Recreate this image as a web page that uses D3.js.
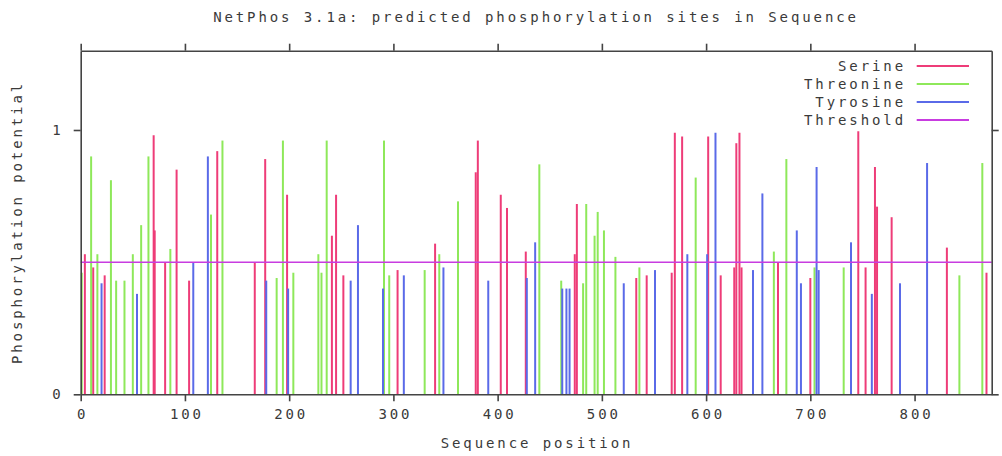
<!DOCTYPE html>
<html><head><meta charset="utf-8">
<script src="https://cdn.jsdelivr.net/npm/d3@7"></script>
<style>
html,body{margin:0;padding:0;background:#fff;}
svg text{font-family:"DejaVu Sans Mono",monospace;font-size:14px;fill:#3a3a3a;letter-spacing:2.9px;}
</style></head>
<body><svg id="chart" width="1002" height="456"></svg>
<script>
const title = "NetPhos 3.1a: predicted phosphorylation sites in Sequence";
const xLabel = "Sequence position";
const yLabel = "Phosphorylation potential";
const xTicks = [0,100,200,300,400,500,600,700,800];
const yTicks = [0,1];
const seqLength = 874;
const threshold = 0.5;
const seriesNames = ["Serine","Threonine","Tyrosine","Threshold"];
const seriesColors = ["#ee3c78","#8ee85a","#5a6ae8","#c83ce0"];

// [position, potential]
const serine = [[4,0.53],[12,0.48],[23,0.45],[70,0.98],[71,0.62],[81,0.50],[92,0.85],[104,0.43],[131,0.92],
 [167,0.50],[177,0.89],[198,0.755],[241,0.60],[245,0.755],[252,0.45],[304,0.47],[340,0.57],[379,0.84],[381,0.96],
 [403,0.755],[409,0.705],[427,0.54],[474,0.53],[476,0.72],[533,0.44],[543,0.45],[567,0.46],[570,0.99],[577,0.975],
 [602,0.975],[614,0.45],[627,0.48],[629,0.95],[632,0.99],[634,0.48],[669,0.50],[700,0.44],[746,0.995],[753,0.48],
 [762,0.86],[764,0.71],[778,0.67],[831,0.555],[869,0.46]];
const threonine = [[1,0.46],[10,0.90],[16,0.53],[29,0.81],[34,0.43],[42,0.43],[50,0.53],[58,0.64],[65,0.90],
 [86,0.55],[125,0.68],[136,0.96],[188,0.44],[194,0.96],[204,0.46],[228,0.53],[231,0.46],[236,0.96],[291,0.96],
 [296,0.45],[330,0.47],[344,0.53],[362,0.73],[440,0.87],[461,0.43],[482,0.42],[485,0.72],[493,0.60],[496,0.69],
 [502,0.62],[513,0.52],[536,0.48],[590,0.82],[665,0.54],[677,0.89],[704,0.48],[732,0.48],[843,0.45],[865,0.875]];
const tyrosine = [[20,0.42],[54,0.38],[108,0.50],[122,0.90],[178,0.43],[199,0.40],[259,0.43],[266,0.64],[290,0.40],
 [310,0.45],[348,0.48],[391,0.43],[428,0.44],[436,0.575],[462,0.40],[466,0.40],[469,0.40],[521,0.42],[551,0.47],
 [582,0.53],[601,0.53],[609,0.99],[645,0.47],[654,0.76],[687,0.62],[691,0.42],[706,0.86],[708,0.47],[739,0.575],
 [759,0.38],[786,0.42],[812,0.875]];

const svg = d3.select("#chart");
const L = 80.7, R = 991.7, T = 50.7, B = 394.3;
const x = d3.scaleLinear().domain([0, seqLength]).range([L, R]);
const y = d3.scaleLinear().domain([0, 1.3]).range([B, T]);

// impulses
const groups = [serine, threonine, tyrosine];
groups.forEach((data, i) => {
  svg.append("g").selectAll("line").data(data).join("line")
    .attr("x1", d => x(d[0])).attr("x2", d => x(d[0]))
    .attr("y1", y(0)).attr("y2", d => y(d[1]))
    .attr("stroke", seriesColors[i]).attr("stroke-width", 2);
});
// threshold
svg.append("line").attr("x1", x(0)).attr("x2", x(seqLength))
  .attr("y1", y(threshold)).attr("y2", y(threshold))
  .attr("stroke", seriesColors[3]).attr("stroke-width", 1.5);

// axes
function styleAxis(g){
  g.select(".domain").attr("stroke","#444").attr("stroke-width",1.6);
  g.selectAll(".tick line").attr("stroke","#444").attr("stroke-width",1.6);
  g.selectAll(".tick text").attr("fill","#3a3a3a").style("font-family",'"DejaVu Sans Mono",monospace').style("font-size","14px");
}
svg.append("g").attr("transform",`translate(0,${B})`)
  .call(d3.axisBottom(x).tickValues(xTicks).tickSizeInner(7).tickSizeOuter(0).tickPadding(8).tickFormat(d3.format("d")))
  .call(styleAxis).call(g=>g.selectAll(".tick text").attr("dx","1.5"));
svg.append("g").attr("transform",`translate(0,${T})`)
  .call(d3.axisTop(x).tickValues(xTicks).tickSizeInner(7).tickSizeOuter(0).tickFormat(""))
  .call(styleAxis);
svg.append("g").attr("transform",`translate(${L},0)`)
  .call(d3.axisLeft(y).tickValues(yTicks).tickSizeInner(7).tickSizeOuter(0).tickPadding(10).tickFormat(d3.format("d")))
  .call(styleAxis);
svg.append("g").attr("transform",`translate(${R},0)`)
  .call(d3.axisRight(y).tickValues(yTicks).tickSizeInner(7).tickSizeOuter(0).tickFormat(""))
  .call(styleAxis);

// texts
svg.append("text").attr("x", 536).attr("y", 22).attr("text-anchor","middle").text(title);
svg.append("text").attr("x", 537).attr("y", 448).attr("text-anchor","middle").text(xLabel);
svg.append("text").attr("transform",`translate(22,${(T+B)/2}) rotate(-90)`).attr("text-anchor","middle").text(yLabel);

// legend
seriesNames.forEach((n, i) => {
  const ly = 66 + i * 18;
  svg.append("text").attr("x", 906).attr("y", ly + 5).attr("text-anchor","end").text(n);
  svg.append("line").attr("x1", 916.7).attr("x2", 969).attr("y1", ly).attr("y2", ly)
    .attr("stroke", seriesColors[i]).attr("stroke-width", 2);
});
</script></body></html>
